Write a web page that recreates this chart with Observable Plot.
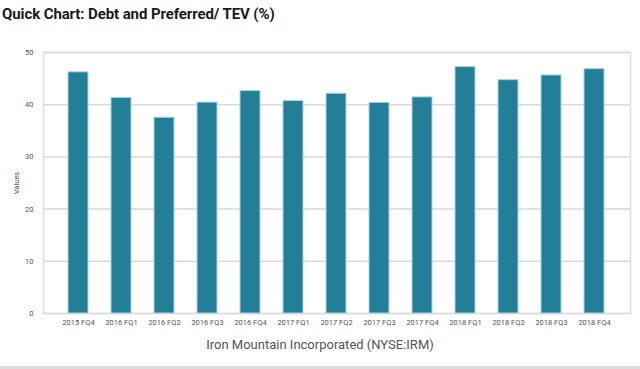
<!DOCTYPE html>
<html>
<head>
<meta charset="utf-8">
<script src="https://cdn.jsdelivr.net/npm/d3@7"></script>
<script src="https://cdn.jsdelivr.net/npm/@observablehq/plot@0.6"></script>
<style>
  html, body { margin: 0; padding: 0; background: #fff; width: 640px; height: 369px; overflow: hidden; }
  #title { font-family: Roboto, "Open Sans", sans-serif; font-weight: 700; font-size: 15px; color: #1a1a1a; height: 30px; line-height: 28px; padding-left: 2px; letter-spacing: -0.1px; }
  #caption { font-family: Roboto, "Open Sans", sans-serif; font-size: 13px; color: #555; text-align: center; line-height: 19px; border-bottom: 3px solid #dcdcdc; box-sizing: border-box; height: 34px; }
  svg { display: block; }
</style>
</head>
<body>
<div id="title">Quick Chart: Debt and Preferred/ TEV (%)</div>
<div id="chart"></div>
<div id="caption">Iron Mountain Incorporated (NYSE:IRM)</div>
<script>
const quarters = ["2015 FQ4","2016 FQ1","2016 FQ2","2016 FQ3","2016 FQ4","2017 FQ1","2017 FQ2","2017 FQ3","2017 FQ4","2018 FQ1","2018 FQ2","2018 FQ3","2018 FQ4"];
const values = [46.2, 41.3, 37.5, 40.4, 42.6, 40.7, 42.1, 40.35, 41.4, 47.2, 44.7, 45.6, 46.8];
const yTicks = [0, 10, 20, 30, 40, 50];

const data = quarters.map((q, i) => ({quarter: q, value: values[i]}));

const chart = Plot.plot({
  width: 640,
  height: 305,
  marginTop: 22,
  marginBottom: 22,
  marginLeft: 43,
  marginRight: 10,
  style: {fontFamily: "Roboto, 'Open Sans', sans-serif", fontSize: "7.5px", color: "#555"},
  x: {domain: quarters, padding: 0.53, label: null},
  y: {domain: [0, 50], label: "Values"},
  marks: [
    Plot.gridY(yTicks, {stroke: "#d9d9d9", strokeOpacity: 1, strokeWidth: 1.5}),
    Plot.frame({stroke: "#dcdcdc", strokeWidth: 1.5}),
    Plot.barY(data, {x: "quarter", y: "value", fill: "#237f97", stroke: "#a9d2de", strokeWidth: 1}),
    Plot.axisY({ticks: yTicks, tickSize: 0, tickPadding: 10, label: "Values", labelAnchor: "center", labelArrow: "none", labelOffset: 30, fill: "#555"}),
    Plot.axisX({tickSize: 0, tickPadding: 6, label: null, fill: "#555"})
  ]
});
document.getElementById("chart").appendChild(chart);
</script>
</body>
</html>
